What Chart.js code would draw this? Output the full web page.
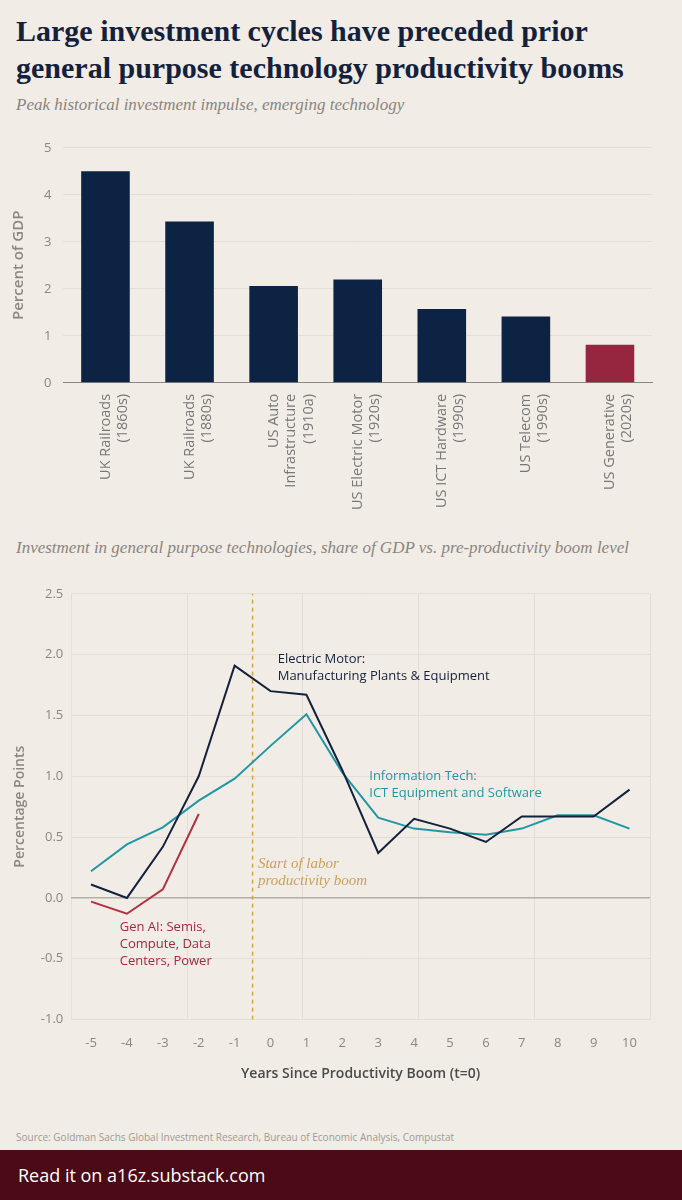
<!DOCTYPE html>
<html><head><meta charset="utf-8">
<script src="https://cdn.jsdelivr.net/npm/chart.js@4"></script>
<style>
body{margin:0;background:#f1ece5;width:682px;height:1200px;position:relative;overflow:hidden;font-family:"Open Sans",sans-serif}
h1{position:absolute;left:16px;top:12px;margin:0;font:bold 30px/37px "Liberation Serif",serif;color:#14213d;width:640px}
.sub{position:absolute;left:16px;font:italic 17px "Liberation Serif",serif;color:#8a8580}
canvas{position:absolute;left:0}
.src{position:absolute;left:16px;top:1130px;font-size:10px;color:#a09a94}
.foot{position:absolute;left:0;top:1150px;width:682px;height:50px;background:#4a0a16;color:#fff;font-size:18px;line-height:50px;padding-left:18px;box-sizing:border-box}
</style></head><body>
<h1>Large investment cycles have preceded prior general purpose technology productivity booms</h1>
<div class="sub" style="top:95px">Peak historical investment impulse, emerging technology</div>
<canvas id="bar" width="682" height="385" style="top:128px"></canvas>
<div class="sub" style="top:538px">Investment in general purpose technologies, share of GDP vs. pre-productivity boom level</div>
<canvas id="line" width="682" height="508" style="top:578px"></canvas>
<div class="src">Source: Goldman Sachs Global Investment Research, Bureau of Economic Analysis, Compustat</div>
<div class="foot">Read it on a16z.substack.com</div>
<script>
var barLabels = [['UK Railroads','(1860s)'],['UK Railroads','(1880s)'],['US Auto','Infrastructure','(1910a)'],['US Electric Motor','(1920s)'],['US ICT Hardware','(1990s)'],['US Telecom','(1990s)'],['US Generative','(2020s)']];
var barValues = [4.5, 3.43, 2.06, 2.2, 1.57, 1.41, 0.81];
var barColors = ['#0c2344','#0c2344','#0c2344','#0c2344','#0c2344','#0c2344','#962640'];

var years = [-5,-4,-3,-2,-1,0,1,2,3,4,5,6,7,8,9,10];
var electricMotor = [0.11,0.0,0.42,1.0,1.91,1.70,1.67,1.05,0.37,0.65,0.57,0.46,0.67,0.67,0.67,0.89];
var infoTech = [0.22,0.44,0.58,0.80,0.98,1.25,1.51,1.03,0.66,0.57,0.54,0.52,0.57,0.68,0.68,0.57];
var genAiYears = [-5,-4,-3,-2];
var genAi = [-0.03,-0.13,0.07,0.69];

var tickFont = {family:'"Open Sans", sans-serif', size:13};
var grey = '#8c8782';

new Chart(document.getElementById('bar'), {
  type:'bar',
  data:{labels:barLabels, datasets:[{data:barValues, backgroundColor:barColors, categoryPercentage:0.85, barPercentage:0.68}]},
  options:{responsive:false, animation:false,
    layout:{padding:{right:30,top:12,left:6}},
    plugins:{legend:{display:false}, tooltip:{enabled:false}},
    scales:{
      x:{grid:{display:false}, border:{color:'#8c8782'}, ticks:{color:'#777', font:{family:'"Open Sans", sans-serif', size:14.5}, minRotation:90, maxRotation:90, autoSkip:false}},
      y:{min:0,max:5, ticks:{stepSize:1,color:grey,font:tickFont,padding:12}, border:{display:false}, grid:{color:'#e5ded4',drawTicks:false},
         title:{display:true,text:'Percent of GDP',color:grey,font:{family:'"Open Sans", sans-serif',size:15,weight:'600'}}}
    }}
});

var toPts = function(xs, ys){ return xs.map(function(x,i){ return {x:x, y:ys[i]}; }); };

var notes = {
  id:'notes',
  afterDatasetsDraw:function(c){
    var x=c.scales.x, y=c.scales.y, ctx=c.ctx;
    ctx.save();
    ctx.font='13px "Open Sans", sans-serif';
    ctx.fillStyle='#14213d';
    ctx.fillText('Electric Motor:', x.getPixelForValue(0.2), y.getPixelForValue(1.93));
    ctx.fillText('Manufacturing Plants & Equipment', x.getPixelForValue(0.2), y.getPixelForValue(1.79));
    ctx.fillStyle='#2296a4';
    ctx.fillText('Information Tech:', x.getPixelForValue(2.75), y.getPixelForValue(0.97));
    ctx.fillText('ICT Equipment and Software', x.getPixelForValue(2.75), y.getPixelForValue(0.83));
    ctx.fillStyle='#a8283d';
    ctx.fillText('Gen AI: Semis,', x.getPixelForValue(-4.2), y.getPixelForValue(-0.27));
    ctx.fillText('Compute, Data', x.getPixelForValue(-4.2), y.getPixelForValue(-0.41));
    ctx.fillText('Centers, Power', x.getPixelForValue(-4.2), y.getPixelForValue(-0.55));
    ctx.font='italic 15px "Liberation Serif", serif';
    ctx.fillStyle='#c9a158';
    ctx.fillText('Start of labor', x.getPixelForValue(-0.35), y.getPixelForValue(0.25));
    ctx.fillText('productivity boom', x.getPixelForValue(-0.35), y.getPixelForValue(0.11));
    ctx.restore();
  }
};

new Chart(document.getElementById('line'), {
  type:'line',
  data:{datasets:[
    {data:toPts(years, electricMotor), borderColor:'#14213d', borderWidth:2, pointRadius:0, tension:0},
    {data:toPts(years, infoTech), borderColor:'#2296a4', borderWidth:2, pointRadius:0, tension:0},
    {data:toPts(genAiYears, genAi), borderColor:'#b2303f', borderWidth:2, pointRadius:0, tension:0},
    {data:[{x:-0.5,y:-1},{x:-0.5,y:2.5}], borderColor:'#d4a440', borderWidth:1.5, borderDash:[4,4], pointRadius:0}
  ]},
  options:{responsive:false, animation:false,
    layout:{padding:{right:32,top:10,left:8}},
    plugins:{legend:{display:false}, tooltip:{enabled:false}},
    scales:{
      x:{type:'linear', min:-5.55, max:10.57, grid:{display:false}, border:{display:false},
         afterBuildTicks:function(a){ a.ticks = years.map(function(v){ return {value:v}; }); },
         ticks:{color:grey, font:tickFont, padding:8},
         title:{display:true, text:'Years Since Productivity Boom (t=0)', color:'#4a4a4a', font:{family:'"Open Sans", sans-serif', size:14, weight:'600'}, padding:{top:6}}},
      g:{type:'linear', position:'top', min:0, max:5, display:true, ticks:{display:false, stepSize:1}, grid:{color:'#e5ded4', drawTicks:false}, border:{display:false}},
      y:{min:-1, max:2.5, ticks:{stepSize:0.5, color:grey, font:tickFont, padding:8, callback:function(v){ return v.toFixed(1); }},
         border:{display:false}, grid:{drawTicks:false, color:function(c){ return c.tick.value===0 ? '#b5aea6' : '#e5ded4'; }, lineWidth:function(c){ return c.tick.value===0 ? 1.5 : 1; }},
         title:{display:true, text:'Percentage Points', color:grey, font:{family:'"Open Sans", sans-serif', size:14, weight:'600'}}}
    }},
  plugins:[notes]
});
</script>
</body></html>
